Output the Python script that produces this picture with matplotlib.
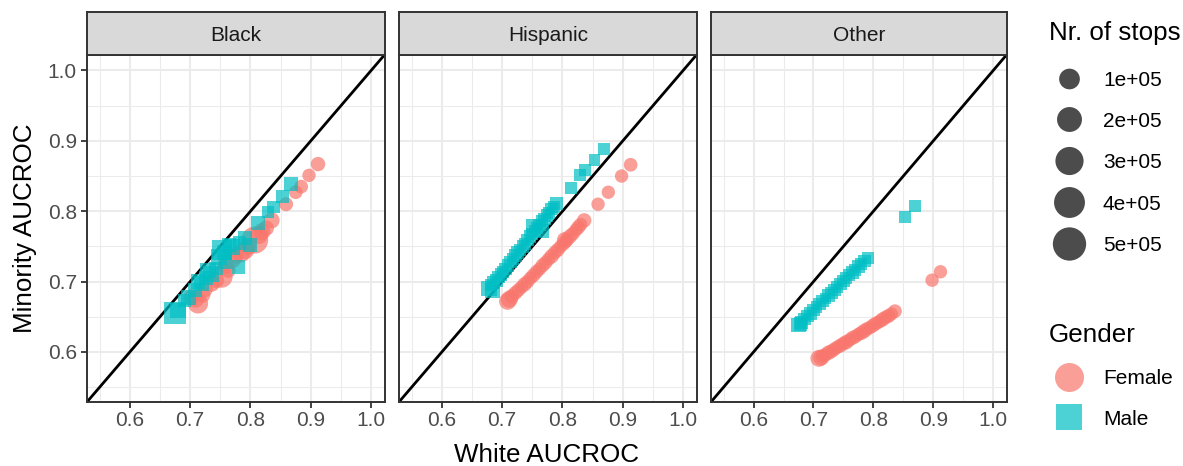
import numpy as np
import matplotlib
matplotlib.use("Agg")
import matplotlib.pyplot as plt

plt.rcParams['font.family'] = ['Liberation Sans', 'DejaVu Sans']

# ---------------- data ----------------
panels = ["Black", "Hispanic", "Other"]
genders = ["Female", "Male"]
gender_colors = {"Female": "#F8766D", "Male": "#00BFC4"}
size_breaks = [1e5, 2e5, 3e5, 4e5, 5e5]
size_labels = ["1e+05", "2e+05", "3e+05", "4e+05", "5e+05"]
axis_ticks = [0.6, 0.7, 0.8, 0.9, 1.0]
axis_tick_labels = ["0.6", "0.7", "0.8", "0.9", "1.0"]

# Black panel
black_female_white = [0.912, 0.897, 0.884, 0.875, 0.859, 0.835, 0.826, 0.819, 0.814, 0.807,
                      0.796, 0.791, 0.785, 0.776, 0.769, 0.763, 0.759, 0.752, 0.743, 0.735,
                      0.724, 0.721, 0.713, 0.709, 0.702]
black_female_minority = [0.867, 0.851, 0.835, 0.827, 0.810, 0.787, 0.776, 0.771, 0.766, 0.759,
                         0.749, 0.745, 0.740, 0.736, 0.733, 0.716, 0.723, 0.707, 0.702, 0.698,
                         0.689, 0.681, 0.669, 0.675, 0.678]
black_female_stops = [15000, 8000, 10000, 10000, 12000, 30000, 25000, 40000, 50000, 260000,
                      30000, 60000, 50000, 20000, 80000, 20000, 40000, 130000, 30000, 50000,
                      30000, 20000, 90000, 40000, 30000]

black_male_white = [0.868, 0.853, 0.838, 0.829, 0.813, 0.799, 0.791, 0.782, 0.780, 0.769,
                    0.765, 0.759, 0.757, 0.752, 0.748, 0.743, 0.735, 0.730, 0.726, 0.719,
                    0.713, 0.708, 0.697, 0.691, 0.680, 0.675]
black_male_minority = [0.839, 0.821, 0.806, 0.799, 0.783, 0.752, 0.762, 0.755, 0.721, 0.749,
                       0.752, 0.728, 0.742, 0.745, 0.735, 0.719, 0.711, 0.716, 0.705, 0.697,
                       0.700, 0.688, 0.678, 0.673, 0.659, 0.655]
black_male_stops = [27000, 10000, 12000, 10000, 25000, 20000, 20000, 20000, 20000, 50000,
                    30000, 20000, 40000, 140000, 60000, 20000, 60000, 50000, 20000, 40000,
                    30000, 30000, 40000, 20000, 50000, 200000]

# Hispanic panel
hisp_female_white = [0.913, 0.898, 0.876, 0.859, 0.836, 0.830, 0.826, 0.822, 0.817, 0.812,
                     0.807, 0.804, 0.802, 0.797, 0.792, 0.787, 0.782, 0.777, 0.772, 0.767,
                     0.762, 0.757, 0.752, 0.747, 0.742, 0.737, 0.732, 0.727, 0.722, 0.716,
                     0.712, 0.709]
hisp_female_minority = [0.866, 0.850, 0.827, 0.810, 0.787, 0.781, 0.777, 0.773, 0.768, 0.764,
                        0.759, 0.759, 0.754, 0.750, 0.745, 0.741, 0.736, 0.732, 0.727, 0.723,
                        0.718, 0.714, 0.709, 0.705, 0.700, 0.696, 0.692, 0.688, 0.684, 0.679,
                        0.675, 0.672]
hisp_female_stops = [10000, 8000, 8000, 8000, 15000, 10000, 12000, 8000, 10000, 15000,
                     12000, 30000, 10000, 8000, 12000, 10000, 15000, 8000, 10000, 12000,
                     8000, 10000, 12000, 8000, 10000, 15000, 8000, 10000, 12000, 15000,
                     40000, 40000]

hisp_male_white = [0.869, 0.853, 0.837, 0.829, 0.814, 0.790, 0.786, 0.782, 0.778, 0.774,
                   0.770, 0.766, 0.766, 0.762, 0.758, 0.755, 0.752, 0.750, 0.746, 0.742,
                   0.738, 0.734, 0.730, 0.726, 0.722, 0.718, 0.714, 0.710, 0.706, 0.702,
                   0.698, 0.694, 0.690, 0.686, 0.682, 0.678, 0.684]
hisp_male_minority = [0.889, 0.873, 0.858, 0.851, 0.833, 0.811, 0.806, 0.803, 0.798, 0.794,
                      0.789, 0.786, 0.772, 0.781, 0.776, 0.772, 0.779, 0.768, 0.764, 0.759,
                      0.754, 0.750, 0.745, 0.741, 0.737, 0.732, 0.728, 0.723, 0.718, 0.714,
                      0.710, 0.706, 0.702, 0.699, 0.695, 0.690, 0.688]
hisp_male_stops = [10000, 8000, 8000, 8000, 8000, 20000, 10000, 12000, 8000, 10000,
                   12000, 8000, 20000, 10000, 12000, 8000, 30000, 10000, 12000, 15000,
                   8000, 10000, 12000, 15000, 10000, 8000, 12000, 10000, 15000, 8000,
                   12000, 10000, 15000, 12000, 10000, 45000, 40000]

# Other panel
other_female_white = [0.912, 0.898, 0.836, 0.830, 0.825, 0.820, 0.815, 0.810, 0.805, 0.800,
                      0.795, 0.790, 0.785, 0.780, 0.775, 0.770, 0.765, 0.760, 0.755, 0.750,
                      0.745, 0.740, 0.735, 0.730, 0.725, 0.720, 0.715, 0.713, 0.709]
other_female_minority = [0.714, 0.702, 0.658, 0.654, 0.651, 0.649, 0.646, 0.643, 0.641, 0.638,
                         0.635, 0.633, 0.630, 0.627, 0.625, 0.622, 0.620, 0.617, 0.614, 0.612,
                         0.609, 0.607, 0.604, 0.601, 0.599, 0.596, 0.594, 0.592, 0.591]
other_female_stops = [8000, 8000, 10000, 8000, 12000, 10000, 15000, 8000, 10000, 12000,
                      8000, 10000, 15000, 12000, 8000, 10000, 12000, 8000, 15000, 10000,
                      12000, 8000, 10000, 12000, 15000, 10000, 8000, 30000, 40000]

other_male_white = [0.869, 0.853, 0.791, 0.785, 0.780, 0.775, 0.770, 0.765, 0.760, 0.755,
                    0.750, 0.745, 0.740, 0.735, 0.730, 0.725, 0.720, 0.715, 0.710, 0.705,
                    0.700, 0.695, 0.690, 0.685, 0.680, 0.678, 0.675]
other_male_minority = [0.808, 0.792, 0.734, 0.729, 0.725, 0.721, 0.717, 0.713, 0.709, 0.705,
                       0.701, 0.697, 0.692, 0.688, 0.684, 0.680, 0.676, 0.672, 0.668, 0.664,
                       0.660, 0.655, 0.651, 0.647, 0.642, 0.640, 0.638]
other_male_stops = [8000, 8000, 10000, 12000, 8000, 15000, 10000, 12000, 8000, 10000,
                    15000, 12000, 8000, 10000, 12000, 15000, 8000, 10000, 12000, 8000,
                    10000, 15000, 12000, 10000, 15000, 20000, 30000]

panel_data = {
    "Black": {"Female": (black_female_white, black_female_minority, black_female_stops),
              "Male": (black_male_white, black_male_minority, black_male_stops)},
    "Hispanic": {"Female": (hisp_female_white, hisp_female_minority, hisp_female_stops),
                 "Male": (hisp_male_white, hisp_male_minority, hisp_male_stops)},
    "Other": {"Female": (other_female_white, other_female_minority, other_female_stops),
              "Male": (other_male_white, other_male_minority, other_male_stops)},
}

# ---------------- style ----------------
W, H, DPI = 1183, 466, 100
PX2PT = 72.0 / DPI
ALPHA = 0.7
XLIM = (0.529, 1.023)
YLIM = (0.5285, 1.022)
GRID_MAJOR = "#EBEBEB"
BORDER = "#333333"
TICK_TXT = "#4D4D4D"
FS_SMALL = 15.0
FS_TITLE = 18.7


def diam_px(n):
    return 10.5 + 10.2 * np.sqrt(np.asarray(n, dtype=float) / 1e5)


def s_circle(n):
    return (diam_px(n) * PX2PT) ** 2


def s_square(n):
    return (0.886 * diam_px(n) * PX2PT) ** 2


fig = plt.figure(figsize=(W / DPI, H / DPI), dpi=DPI)
fig.patch.set_facecolor("white")

panel_lefts = [87, 399, 711]
panel_rights = [385, 697, 1007]
panel_top, panel_bottom = 55, 402.3
strip_top = 12


def fx(px):
    return px / W


def fy(py):
    return 1 - py / H


for i, name in enumerate(panels):
    l, r = panel_lefts[i], panel_rights[i]
    ax = fig.add_axes([fx(l), fy(panel_bottom), (r - l) / W, (panel_bottom - panel_top) / H])
    ax.set_xlim(*XLIM)
    ax.set_ylim(*YLIM)
    ax.set_xticks(axis_ticks)
    ax.set_xticklabels(axis_tick_labels)
    ax.set_yticks(axis_ticks)
    ax.set_xticks([0.55, 0.65, 0.75, 0.85, 0.95], minor=True)
    ax.set_yticks([0.55, 0.65, 0.75, 0.85, 0.95], minor=True)
    ax.grid(which="major", color=GRID_MAJOR, lw=1.45, zorder=0)
    ax.grid(which="minor", color=GRID_MAJOR, lw=0.75, zorder=0)
    ax.tick_params(which="minor", length=0)
    ax.tick_params(which="major", direction="out", length=4.3, width=1.3, color=BORDER,
                   labelsize=FS_SMALL, labelcolor=TICK_TXT, pad=3.0)
    ax.tick_params(axis="x", pad=2.2)
    if i == 0:
        ax.set_yticklabels(axis_tick_labels)
    else:
        ax.tick_params(axis="y", which="both", length=0, labelleft=False)
    for sp in ax.spines.values():
        sp.set_color(BORDER)
        sp.set_linewidth(1.4)
        sp.set_zorder(5)
    ax.set_axisbelow(True)

    ax.axline((0.5, 0.5), slope=1, color="black", lw=2.0, zorder=2)

    for g in genders:
        wv, mv, nv = panel_data[name][g]
        if g == "Female":
            ax.scatter(wv, mv, s=s_circle(nv), marker="o", color=gender_colors[g],
                       alpha=ALPHA, linewidths=0, zorder=3)
        else:
            ax.scatter(wv, mv, s=s_square(nv), marker="s", color=gender_colors[g],
                       alpha=ALPHA, linewidths=0, zorder=3)

    # strip
    sax = fig.add_axes([fx(l), fy(panel_top), (r - l) / W, (panel_top - strip_top) / H])
    sax.set_facecolor("#D9D9D9")
    sax.set_xticks([])
    sax.set_yticks([])
    for sp in sax.spines.values():
        sp.set_color(BORDER)
        sp.set_linewidth(1.4)
    sax.text(0.5, 0.5, name, transform=sax.transAxes, ha="center", va="center_baseline",
             fontsize=FS_SMALL, color="#1A1A1A")

# axis titles
fig.text(fx(547), fy(462), "White AUCROC", ha="center", va="baseline",
         fontsize=FS_TITLE, color="black")
fig.text(fx(32), fy(228), "Minority AUCROC", ha="center", va="baseline",
         rotation=90, fontsize=FS_TITLE, color="black", rotation_mode="anchor")

# legend (drawn in pixel coordinates)
lax = fig.add_axes([0, 0, 1, 1])
lax.set_xlim(0, W)
lax.set_ylim(H, 0)
lax.axis("off")
lax.patch.set_alpha(0)

lax.text(1049, 40, "Nr. of stops", ha="left", va="baseline", fontsize=FS_TITLE, color="black")
key_y = [79, 119.5, 161, 202.5, 244]
lax.scatter([1069.5] * len(size_breaks), key_y, s=s_circle(size_breaks), marker="o",
            color="black", alpha=ALPHA, linewidths=0)
for yk, lab in zip(key_y, size_labels):
    lax.text(1103, yk + 7.3, lab, ha="left", va="baseline", fontsize=FS_SMALL, color="black")

lax.text(1049, 342, "Gender", ha="left", va="baseline", fontsize=FS_TITLE, color="black")
key_d = 29.0
lax.scatter([1069.5], [376.7], s=(key_d * PX2PT) ** 2, marker="o",
            color=gender_colors["Female"], alpha=ALPHA, linewidths=0)
lax.scatter([1069.5], [417.3], s=(0.886 * key_d * PX2PT) ** 2, marker="s",
            color=gender_colors["Male"], alpha=ALPHA, linewidths=0)
lax.text(1103, 384, "Female", ha="left", va="baseline", fontsize=FS_SMALL, color="black")
lax.text(1103, 424.6, "Male", ha="left", va="baseline", fontsize=FS_SMALL, color="black")

fig.savefig("out.png", dpi=DPI, facecolor="white")
